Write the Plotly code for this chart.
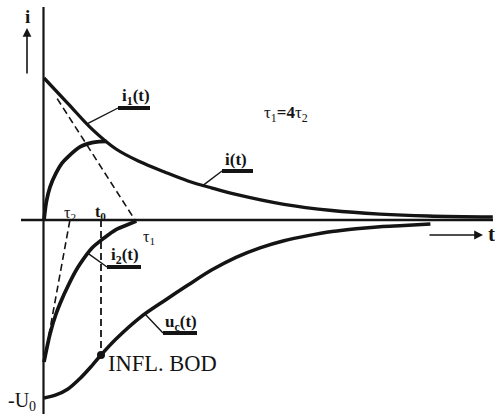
import numpy as np
import plotly.graph_objects as go

# Time in units of tau2, currents in units of I0 (voltage scaled the same way)
t_i1 = [0, 1, 2, 3, 4, 5, 6, 7, 8, 10, 12, 14, 16, 18.7]
i1_vals = [1.0, 0.82, 0.64, 0.50, 0.41, 0.34, 0.275, 0.225, 0.18, 0.11, 0.067, 0.042, 0.028, 0.021]

t_i = [0, 0.1, 0.25, 0.5, 0.75, 1.0, 1.5, 2.0, 2.3, 2.6]
i_vals = [0, 0.13, 0.232, 0.33, 0.40, 0.445, 0.515, 0.545, 0.552, 0.553]

t_i2 = [0, 0.25, 0.5, 0.75, 1.0, 1.3, 1.5, 2.0, 2.5, 3.0, 3.5, 3.85]
i2_vals = [-1.0, -0.803, -0.662, -0.556, -0.465, -0.366, -0.31, -0.197, -0.127, -0.067, -0.032, -0.008]

t_uc = [0, 0.5, 1, 1.5, 2, 2.375, 3, 4, 5, 6, 7, 8, 9, 10, 11, 12, 13, 14, 15, 16.1]
uc_vals = [-1.254, -1.232, -1.19, -1.116, -1.025, -0.951, -0.838, -0.687, -0.57, -0.458,
           -0.351, -0.263, -0.196, -0.146, -0.11, -0.081, -0.061, -0.047, -0.039, -0.028]

TAU1 = 3.79   # tangent of i1 at t=0 crosses the time axis
TAU2 = 1.08   # tangent of i2 at t=0 crosses the time axis
T0 = 2.375    # inflection point of u_c

# canvas layout
W, H = 495, 414
ORIGIN = (44, 220)
PX_PER_T = 24.0
PX_PER_I = 142.0
X_RANGE = [-ORIGIN[0] / PX_PER_T, (W - ORIGIN[0]) / PX_PER_T]
Y_RANGE = [(ORIGIN[1] - H) / PX_PER_I, ORIGIN[1] / PX_PER_I]


def pos(px, py):
    """canvas position -> data coordinates"""
    return (px - ORIGIN[0]) / PX_PER_T, (ORIGIN[1] - py) / PX_PER_I


INK = "#141414"
SERIF = "Liberation Serif"

fig = go.Figure()

def curve(t, v, width, smoothing=1.0):
    fig.add_trace(go.Scatter(x=t, y=v, mode="lines",
                             line=dict(color=INK, width=width, shape="spline", smoothing=smoothing),
                             hoverinfo="skip", showlegend=False))

curve(t_i1, i1_vals, 3.3)
curve(t_i, i_vals, 3.7, 0.8)
curve(t_i2, i2_vals, 3.7, 0.8)
curve(t_uc, uc_vals, 3.5)

# inflection point of u_c
uc_t0 = uc_vals[t_uc.index(T0)]
fig.add_trace(go.Scatter(x=[T0], y=[uc_t0], mode="markers",
                         marker=dict(color=INK, size=8), hoverinfo="skip", showlegend=False))


def seg(p, q, width, dash=None):
    fig.add_shape(type="line", xref="x", yref="y", x0=p[0], y0=p[1], x1=q[0], y1=q[1],
                  line=dict(color=INK, width=width, dash=dash))

# axes
seg(pos(43.5, 7), pos(43.5, H), 2.2)
seg(pos(21, 220), pos(493, 220), 2.4)

# tangents and the t0 marker line
DASH = "7px,4px"
seg((0.55, 1.0 - 0.55 / TAU1), (TAU1, 0), 1.6, DASH)
seg((0.2, i2_vals[0] * (1 - 0.2 / TAU2)), (TAU2, 0), 1.6, DASH)
seg((T0, 0), (T0, uc_t0), 1.8, DASH)

# leaders and underline bars for the curve labels
def leader(t_curve, v_curve, t_at, bar_left, bar_right):
    y_at = float(np.interp(t_at, t_curve, v_curve))
    seg((t_at, y_at), bar_left, 1.4)
    seg(bar_left, bar_right, 4)

leader(t_i1, i1_vals, (87 - 44) / PX_PER_T, pos(118, 108), pos(150, 108))
leader(t_i1, i1_vals, (203 - 44) / PX_PER_T, pos(222, 171), pos(253, 171))
leader(t_i2, i2_vals, (88 - 44) / PX_PER_T, pos(107, 267), pos(141, 267))
leader(t_uc, uc_vals, (145 - 44) / PX_PER_T, pos(163, 333), pos(197, 333))


def label(text, px, py, size, xanchor="center"):
    fig.add_annotation(text=text, x=px / W, y=1 - py / H, xref="paper", yref="paper",
                       xanchor=xanchor, yanchor="middle", showarrow=False,
                       font=dict(family=SERIF, size=size, color=INK))

label("<b>i</b>", 27, 17, 19)
label("-U<sub>0</sub>", 6, 401, 20, xanchor="left")
label("τ<sub>2</sub>", 70, 214, 16)
label("<b>t<sub>0</sub></b>", 100, 212, 16)
label("τ<sub>1</sub>", 149, 237, 16)
label("τ<sub>1</sub><b>=4</b>τ<sub>2</sub>", 286, 114, 17)
label("<b>i<sub>1</sub>(t)</b>", 136, 97, 17)
label("<b>i(t)</b>", 236, 160, 17)
label("<b>i<sub>2</sub>(t)</b>", 125, 256, 17)
label("<b>u<sub>c</sub>(t)</b>", 181, 323, 17)
label("INFL. BOD", 106, 363, 22.5, xanchor="left")
label("<b>t</b>", 491, 234, 21)

# direction arrows for i and t
fig.add_annotation(x=27 / W, y=1 - 28 / H, xref="paper", yref="paper", ax=0, ay=47,
                   axref="pixel", ayref="pixel", text="", showarrow=True,
                   arrowhead=2, arrowsize=1.1, arrowwidth=1.6, arrowcolor=INK, standoff=0)
fig.add_annotation(x=483 / W, y=1 - 235 / H, xref="paper", yref="paper", ax=-55, ay=0,
                   axref="pixel", ayref="pixel", text="", showarrow=True,
                   arrowhead=2, arrowsize=1.1, arrowwidth=1.6, arrowcolor=INK, standoff=0)

fig.update_layout(
    width=W, height=H, margin=dict(l=0, r=0, t=0, b=0),
    paper_bgcolor="white", plot_bgcolor="white",
    xaxis=dict(range=X_RANGE, visible=False, fixedrange=True),
    yaxis=dict(range=Y_RANGE, visible=False, fixedrange=True),
    showlegend=False,
)

fig.write_html("out.html")
